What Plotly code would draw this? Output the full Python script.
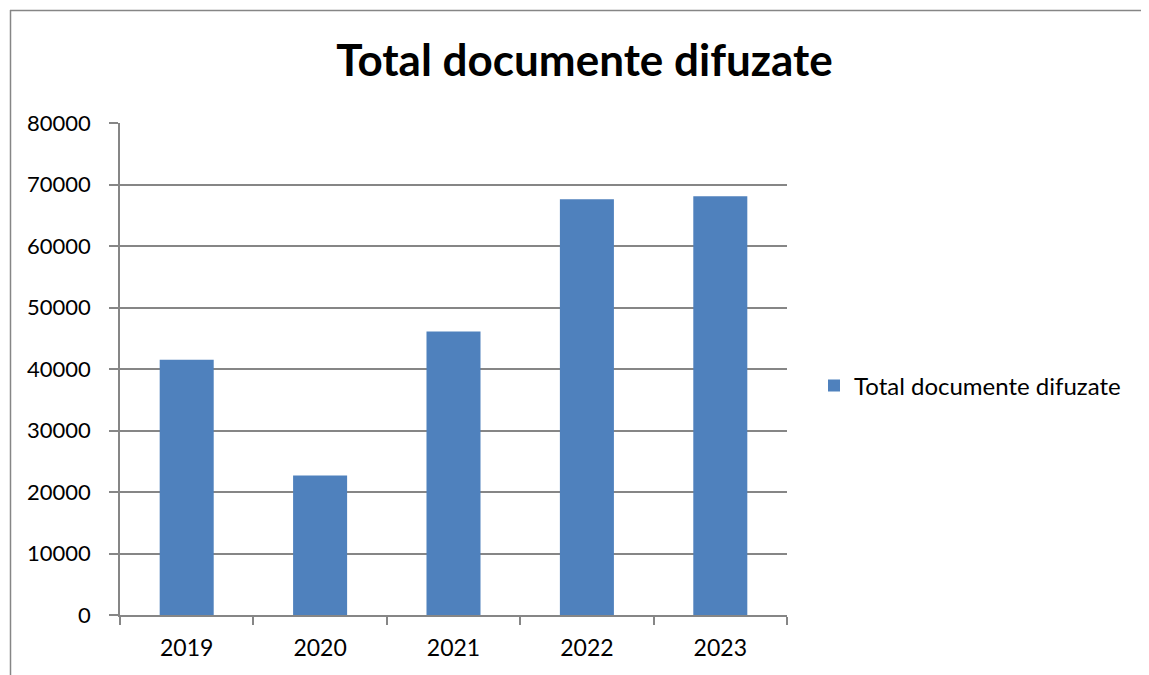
import plotly.graph_objects as go

categories = ["2019", "2020", "2021", "2022", "2023"]
values = [41500, 22700, 46100, 67600, 68100]
series_name = "Total documente difuzate"
title_text = "Total documente difuzate"
y_ticks = [0, 10000, 20000, 30000, 40000, 50000, 60000, 70000, 80000]
y_tick_text = ["0", "10000", "20000", "30000", "40000", "50000", "60000", "70000", "80000"]

# page renders with an 8px body offset
OFF = 8
W, H = 1149 - OFF, 675 - OFF
L, T = 120 - OFF, 123 - OFF
R = W - (787 - OFF)
B = H - (615 - OFF)
pw, ph = W - L - R, H - T - B

def px_x(p):
    return (p - OFF - L) / pw

def px_y(p):
    return (H - B - (p - OFF)) / ph

GRID = "#868686"
FONT = "Lato"

fig = go.Figure()
fig.add_trace(go.Bar(
    x=categories, y=values, name=series_name,
    marker=dict(color="#4F81BD", line=dict(width=0)),
    width=0.405, showlegend=True,
))

fig.update_layout(
    width=W, height=H,
    margin=dict(l=L, r=R, t=T, b=B, autoexpand=False),
    paper_bgcolor="white", plot_bgcolor="white",
    title=dict(text="<b>" + title_text + "</b>", x=(584.5 - OFF) / W, xanchor="center",
               y=1 - (61 - OFF) / H, yanchor="middle",
               font=dict(family=FONT, size=44, color="black")),
    font=dict(family=FONT, size=23, color="black"),
    showlegend=True,
    legend=dict(x=px_x(814), xanchor="left", y=px_y(386), yanchor="middle",
                font=dict(family=FONT, size=24, color="black"),
                bgcolor="rgba(0,0,0,0)", itemwidth=30),
    xaxis=dict(type="category", showline=True, linecolor=GRID, linewidth=1.5,
               ticks="outside", tickson="boundaries", ticklen=8, tickcolor=GRID,
               tickwidth=1.5, showgrid=False, ticklabelstandoff=12,
               tickfont=dict(family=FONT, size=23, color="black")),
    yaxis=dict(range=[0, 80000], tickvals=y_ticks, ticktext=y_tick_text, showline=True,
               linecolor=GRID, linewidth=1.5, ticks="outside", ticklen=9, tickcolor=GRID,
               tickwidth=1.5, showgrid=True, gridcolor=GRID, gridwidth=1.5, zeroline=False,
               ticklabelstandoff=14,
               tickfont=dict(family=FONT, size=22, color="black")),
    shapes=[
        dict(type="line", xref="paper", yref="paper", x0=px_x(10), x1=px_x(1160),
             y0=px_y(10.5), y1=px_y(10.5), line=dict(color=GRID, width=1.5)),
        dict(type="line", xref="paper", yref="paper", x0=px_x(10.5), x1=px_x(10.5),
             y0=px_y(10), y1=px_y(690), line=dict(color=GRID, width=1.5)),
    ],
)

fig.write_html("out.html")
